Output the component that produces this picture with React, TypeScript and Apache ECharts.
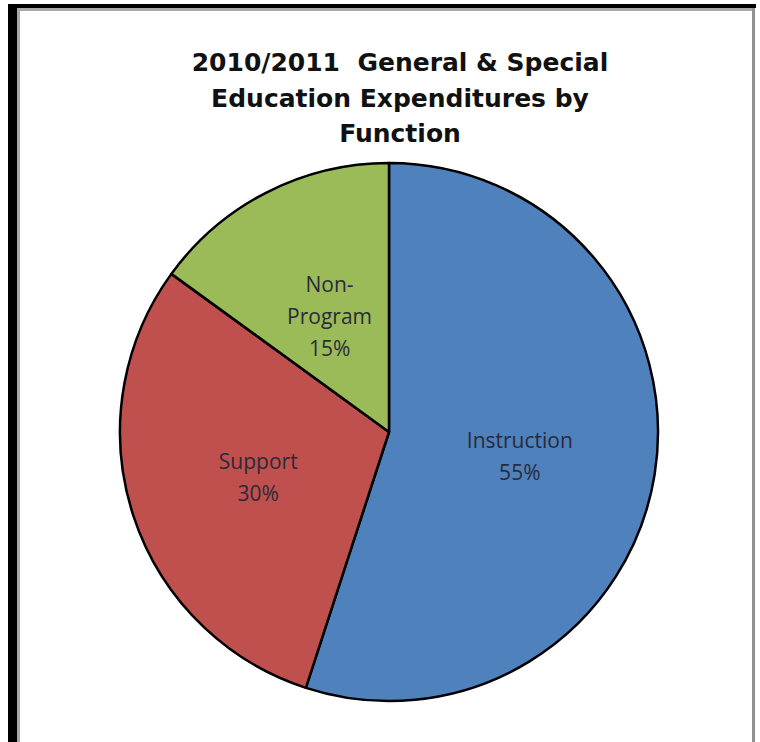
import React, { useEffect, useRef } from "react";
import * as echarts from "echarts";

const categories = ["Instruction", "Support", "Non-Program"];
const labelNames = ["Instruction", "Support", "Non-\nProgram"];
const values = [55, 30, 15];
const colors = ["#4F81BD", "#C0504D", "#9BBB59"];
const titleLines = ["2010/2011  General & Special", "Education Expenditures by", "Function"];

export default function App() {
  const ref = useRef<HTMLDivElement>(null);
  useEffect(() => {
    if (!ref.current) return;
    const chart = echarts.init(ref.current, undefined, { renderer: "svg" });
    chart.setOption({
      animation: false,
      backgroundColor: "#ffffff",
      title: {
        text: titleLines.join("\n"),
        left: 395,
        textAlign: "center",
        top: 40,
        textStyle: {
          fontFamily: "DejaVu Sans",
          fontWeight: "bold",
          fontSize: 25,
          lineHeight: 35.5,
          color: "#111111",
        },
      },
      graphic: [
        { type: "rect", shape: { x: 8, y: 4, width: 748, height: 4 }, style: { fill: "#000" } },
        { type: "rect", shape: { x: 8, y: 4, width: 9, height: 738 }, style: { fill: "#000" } },
        { type: "rect", shape: { x: 17, y: 8, width: 3, height: 734 }, style: { fill: "#A8A8A8" } },
        { type: "rect", shape: { x: 17, y: 8, width: 738, height: 3 }, style: { fill: "#A8A8A8" } },
        { type: "rect", shape: { x: 752, y: 8, width: 3, height: 734 }, style: { fill: "#909090" } },
      ],
      series: [
        {
          type: "pie",
          center: [389, 432],
          radius: 269,
          startAngle: 90,
          clockwise: true,
          data: categories.map((c, i) => ({
            name: c,
            value: values[i],
            itemStyle: { color: colors[i] },
            label: i === 2 ? { offset: [3, 7] } : i === 1 ? { offset: [0, 3] } : { offset: [-5, 2] },
          })),
          itemStyle: { borderColor: "#000", borderWidth: 2.5 },
          label: {
            show: true,
            position: "inside",
            formatter: (p: any) => labelNames[p.dataIndex] + "\n" + p.value + "%",
            fontFamily: "Open Sans",
            fontSize: 21,
            lineHeight: 32,
            color: "#2a2a3a",
          },
          labelLine: { show: false },
          emphasis: { disabled: true },
        },
      ],
    });
    return () => chart.dispose();
  }, []);
  return (
    <div
      ref={ref}
      style={{ position: "fixed", left: 0, top: 0, width: 760, height: 742 }}
    />
  );
}
